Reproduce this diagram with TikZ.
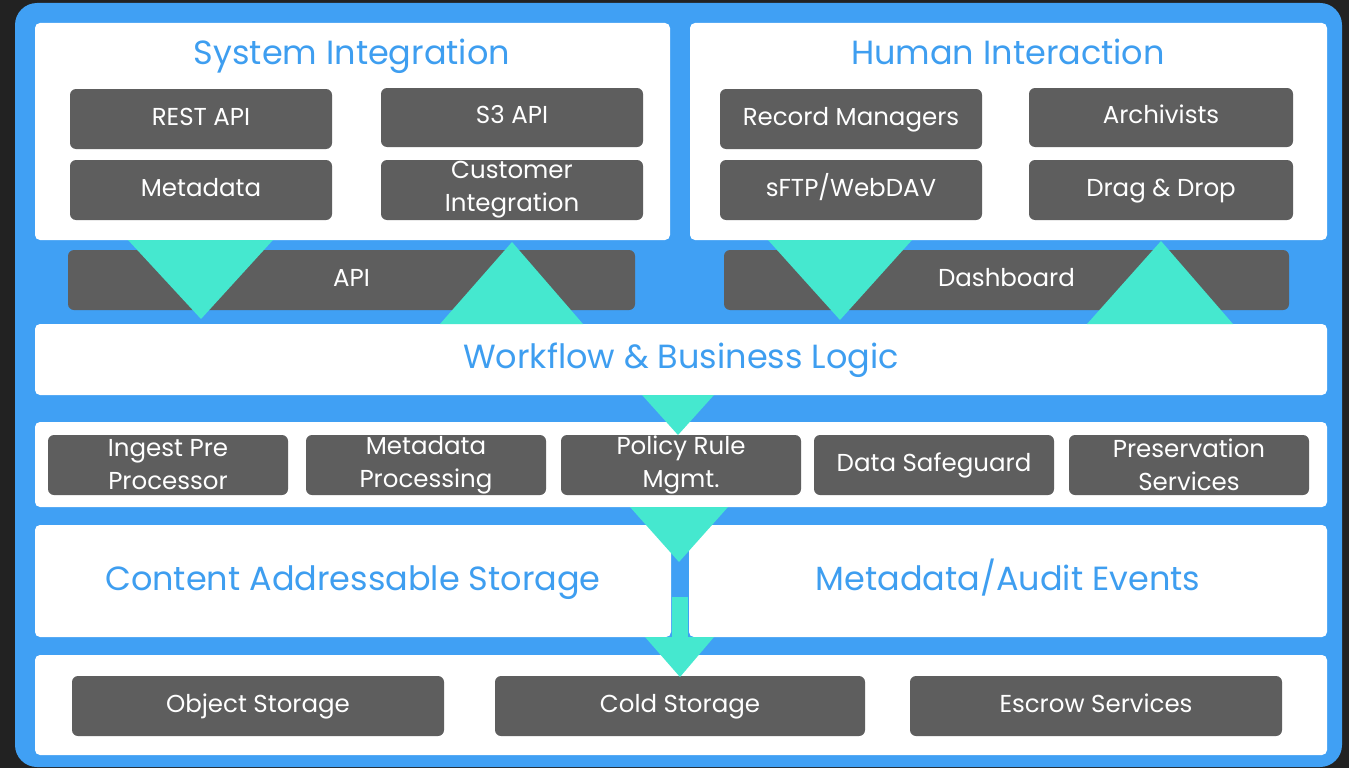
\documentclass[tikz,border=0pt]{standalone}
\usepackage{fontspec}
\setmainfont{Poppins}
\definecolor{bgdark}{HTML}{222222}
\definecolor{frameblue}{HTML}{40A0F4}
\definecolor{flow}{HTML}{45E8CF}
\definecolor{tile}{HTML}{5E5E5E}
\definecolor{heading}{HTML}{3E9EF0}

\begin{document}
\begin{tikzpicture}[x=1pt,y=-1pt,
  sz/.style 2 args={minimum width=#1, minimum height=#2},
  panel/.style={fill=white, rounded corners=5pt, inner sep=0pt},
  tilebox/.style={fill=tile, rounded corners=6pt, text=white, inner sep=0pt,
    font=\fontsize{24.5}{29}\selectfont, text height=17pt, text depth=5pt},
  twoline/.style={align=center, text height=, text depth=,
    font=\fontsize{24.5}{33}\selectfont},
  heading/.style={text=heading, anchor=base, inner sep=0pt,
    font=\fontsize{33.5}{36}\selectfont},
  arrowhead/.style={fill=flow}]

% canvas and frame
\fill[bgdark] (0,0) rectangle (1349,768);
\useasboundingbox (0,0) rectangle (1349,768);
\fill[frameblue, rounded corners=22pt] (15,3) rectangle (1342,767);

% white panels
\node[panel, sz={635pt}{217pt}] (si)    at (352.5,131.5) {};
\node[panel, sz={637pt}{217pt}] (hi)    at (1008.5,131.5) {};
\node[panel, sz={1292pt}{71pt}] (wf)    at (681,359.5) {};
\node[panel, sz={1292pt}{85pt}] (proc)  at (681,464.5) {};
\node[panel, sz={636pt}{112pt}] (cas)   at (353,581) {};
\node[panel, sz={638pt}{112pt}] (mae)   at (1008,581) {};
\node[panel, sz={1292pt}{100pt}] (store) at (681,705) {};

% panel headings (placed on their baselines)
\node[heading] (siT)  at (352,64)   {System Integration};
\node[heading] (hiT)  at (1008,64)  {Human Interaction};
\node[heading] (wfT)  at (681,368)  {Workflow \& Business Logic};
\node[heading] (casT) at (353,590)  {Content Addressable Storage};
\node[heading] (maeT) at (1008,590) {Metadata/Audit Events};

% system integration tiles
\node[tilebox, sz={262pt}{60pt}] (rest) at (201,119)   {REST API};
\node[tilebox, sz={262pt}{59pt}] (s3)   at (512,117.5) {S3 API};
\node[tilebox, sz={262pt}{60pt}] (meta) at (201,190)   {Metadata};
\node[tilebox, twoline, sz={262pt}{60pt}] (cust) at (512,190) {Customer\\Integration};

% human interaction tiles
\node[tilebox, sz={262pt}{60pt}] (rm)   at (851,119)    {Record Managers};
\node[tilebox, sz={264pt}{59pt}] (arch) at (1161,117.5) {Archivists};
\node[tilebox, sz={262pt}{60pt}] (sftp) at (851,190)    {sFTP/WebDAV};
\node[tilebox, sz={264pt}{60pt}] (dd)   at (1161,190)   {Drag \& Drop};

% access bars
\node[tilebox, sz={567pt}{60pt}] (api)  at (351.5,280)  {API};
\node[tilebox, sz={565pt}{60pt}] (dash) at (1006.5,280) {Dashboard};

% processing services
\node[tilebox, twoline, sz={240pt}{60pt}] (ingest) at (168,465)  {Ingest Pre\\Processor};
\node[tilebox, twoline, sz={240pt}{60pt}] (metap)  at (426,465)  {Metadata\\Processing};
\node[tilebox, twoline, sz={240pt}{60pt}] (policy) at (681,465)  {Policy Rule\\Mgmt.};
\node[tilebox, sz={240pt}{60pt}] (safe)   at (934,465)  {Data Safeguard};
\node[tilebox, twoline, sz={240pt}{60pt}] (pres)   at (1189,465) {Preservation\\Services};

% storage targets
\node[tilebox, sz={372pt}{60pt}] (obj)    at (258,706)  {Object Storage};
\node[tilebox, sz={370pt}{60pt}] (cold)   at (680,706)  {Cold Storage};
\node[tilebox, sz={372pt}{60pt}] (escrow) at (1096,706) {Escrow Services};

% flow arrowheads between layers
\fill[arrowhead] (128,240) -- (273,240) -- (201,319) -- cycle;
\fill[arrowhead] (440,324) -- (583,324) -- (512,242) -- cycle;
\fill[arrowhead] (768,240) -- (912,240) -- (840,320) -- cycle;
\fill[arrowhead] (1087,324) -- (1233,324) -- (1161,241) -- cycle;
\fill[arrowhead] (642,395) -- (714,395) -- (678,435) -- cycle;
\fill[arrowhead] (630,507) -- (728,507) -- (679,562) -- cycle;
\fill[arrowhead] (672,597) rectangle (688,638);
\fill[arrowhead] (645,637) -- (714,637) -- (680,677) -- cycle;
\end{tikzpicture}
\end{document}
